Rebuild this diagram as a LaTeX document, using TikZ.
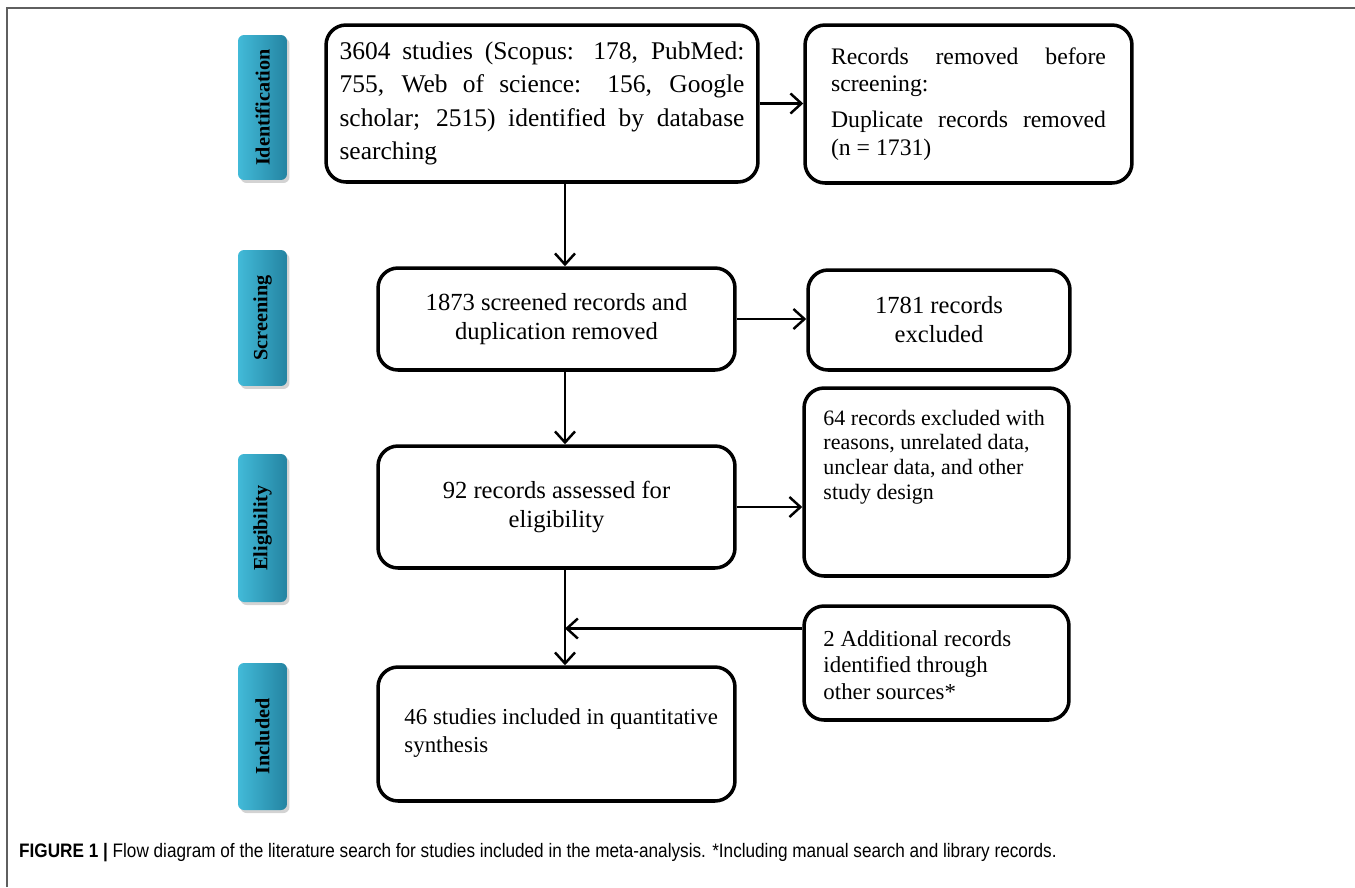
\documentclass[tikz,border=0pt]{standalone}
\usepackage{fontspec}
\setmainfont{Liberation Serif}
\newfontfamily\capfont[FakeStretch=0.88]{Liberation Sans}
\usetikzlibrary{arrows.meta,positioning,calc,shadows}
\definecolor{TabLight}{RGB}{66,186,216}
\definecolor{TabDark}{RGB}{36,132,162}
\definecolor{FrameGray}{RGB}{95,95,95}
\tikzset{
  stage/.style={draw=black,line width=2pt,rounded corners=0.4cm,align=center},
  tab/.style={rounded corners=0.12cm,left color=TabLight,right color=TabDark,
    minimum width=0.98cm,
    drop shadow={shadow xshift=0.05cm,shadow yshift=-0.06cm,opacity=0.35}},
  tablabel/.style={rotate=90,font=\bfseries\fontsize{11.5}{13}\selectfont},
  flow/.style={-{Straight Barb[length=2.2mm,width=4mm]},line width=1.4pt}
}

\begin{document}
\begin{tikzpicture}[x=0.02cm,y=-0.02cm]
  \useasboundingbox (0,0) rectangle (1355,887);
  \draw[FrameGray,line width=1pt] (7,887) -- (7,8) -- (1355,8);

  % phase tabs
  \node[tab,minimum height=2.9cm] (tabid) at (262.5,107.5) {};
  \node[tablabel] at (tabid) {Identification};
  \node[tab,minimum height=2.72cm] (tabscr) at (262.5,318) {};
  \node[tablabel] at (tabscr) {Screening};
  \node[tab,minimum height=2.96cm] (tabelig) at (262.5,528) {};
  \node[tablabel] at (tabelig) {Eligibility};
  \node[tab,minimum height=2.94cm] (tabinc) at (262.5,736.5) {};
  \node[tablabel] at (tabinc) {Included};

  % main column
  \node[stage,minimum width=8.64cm,minimum height=3.14cm,text width=8.1cm,
        align=justify,font=\fontsize{14.5}{19}\selectfont] (ident) at (542,103.5)
    {3604 studies (Scopus: 178, PubMed: 755, Web of science: 156, Google scholar; 2515) identified by database searching};
  \node[stage,minimum width=7.14cm,minimum height=2.04cm,
        font=\fontsize{14}{16.5}\selectfont] (screen) at (556.5,319)
    {1873 screened records and\\duplication removed};
  \node[stage,minimum width=7.14cm,minimum height=2.44cm,
        font=\fontsize{14}{16.5}\selectfont] (elig) at (556.5,507)
    {92 records assessed for\\eligibility};
  \node[stage,minimum width=7.14cm,minimum height=2.68cm] (incl) at (556.5,734) {};
  \node[anchor=north west,align=left,font=\fontsize{13}{16}\selectfont]
    at ([xshift=0.44cm,yshift=-0.75cm]incl.north west)
    {46 studies included in quantitative\\synthesis};

  % side column
  \node[stage,minimum width=6.54cm,minimum height=3.16cm,text width=5.5cm,
        align=justify,font=\fontsize{13.5}{15.5}\selectfont] (remov) at (968.5,104)
    {Records removed before screening:\\[5pt]Duplicate records removed (n = 1731)};
  \node[stage,minimum width=5.24cm,minimum height=2cm,
        font=\fontsize{14}{16.5}\selectfont] (excl) at (939,320)
    {1781 records\\excluded};
  \node[stage,minimum width=5.3cm,minimum height=3.76cm] (why) at (936.5,482) {};
  \node[anchor=north west,align=left,font=\fontsize{12.5}{14}\selectfont]
    at ([xshift=0.3cm,yshift=-0.35cm]why.north west)
    {64 records excluded with\\reasons, unrelated data,\\unclear data, and other\\study design};
  \node[stage,minimum width=5.3cm,minimum height=2.28cm] (add) at (936.5,663) {};
  \node[anchor=north west,align=left,font=\fontsize{13}{15}\selectfont]
    at ([xshift=0.3cm,yshift=-0.4cm]add.north west)
    {2 Additional records\\identified through\\other sources*};

  % connectors
  \coordinate (spine) at (565,0);
  \coordinate (join) at ([yshift=0.69cm]add.west);
  \draw[flow] (ident.east) -- (ident.east -| remov.west);
  \draw[flow] (ident.south -| spine) -- (screen.north -| spine);
  \draw[flow] (screen.east) -- (screen.east -| excl.west);
  \draw[flow] (screen.south -| spine) -- (elig.north -| spine);
  \draw[flow] (elig.east) -- (elig.east -| why.west);
  \draw[flow] (elig.south -| spine) -- (incl.north -| spine);
  \draw[flow] (join) -- (join -| spine);

  \node[anchor=base west,font=\capfont\fontsize{11.1}{12}\selectfont] (caption) at (13,857)
    {\textbf{FIGURE 1 |} Flow diagram of the literature search for studies included in the meta-analysis. *Including manual search and library records.};
\end{tikzpicture}
\end{document}
